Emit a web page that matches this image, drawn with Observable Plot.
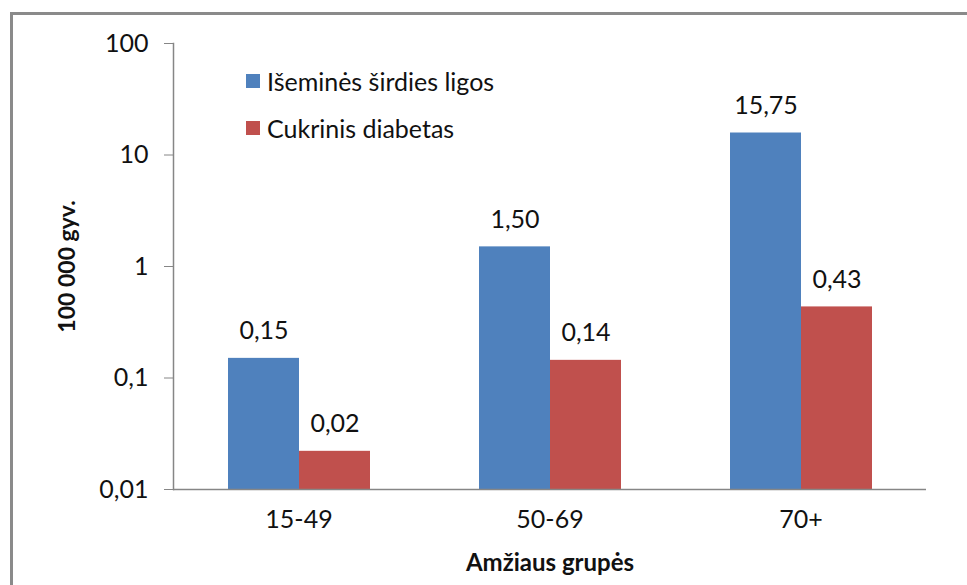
<!DOCTYPE html>
<html>
<head>
<meta charset="utf-8">
<script src="https://cdn.jsdelivr.net/npm/d3@7"></script>
<script src="https://cdn.jsdelivr.net/npm/@observablehq/plot@0.6"></script>
<style>
  html, body { margin: 0; padding: 0; background: #fff; }
  #wrap { position: relative; width: 967px; height: 585px; overflow: hidden; font-family: Lato, "Open Sans", sans-serif; }
  #border { position: absolute; left: 10px; top: 12px; width: 1000px; height: 700px; border-left: 3px solid #8a8a8a; border-top: 3px solid #8a8a8a; box-sizing: border-box; }
  #chart { position: absolute; left: 0; top: 0; }
  .legend { position: absolute; left: 246px; top: 57px; font-size: 25px; color: #111; }
  .legend .item { display: flex; align-items: center; height: 47px; }
  .legend .sw { width: 14px; height: 14px; margin-right: 7px; }
  g[aria-label="y-axis label"] text { font-weight: bold; font-size: 23px; }
  g[aria-label="fx-axis label"] text { font-weight: bold; font-size: 24px; }
</style>
</head>
<body>
<div id="wrap">
  <div id="border"></div>
  <div id="chart"></div>
  <div class="legend" id="legend"></div>
</div>
<script>
const groups = ["15-49", "50-69", "70+"];
const series = ["Išeminės širdies ligos", "Cukrinis diabetas"];
const ischemic = [0.15, 1.50, 15.75];
const diabetes = [0.022, 0.144, 0.434];
const labelsIschemic = ["0,15", "1,50", "15,75"];
const labelsDiabetes = ["0,02", "0,14", "0,43"];
const yTicks = [0.01, 0.1, 1, 10, 100];
const yTickLabels = ["0,01", "0,1", "1", "10", "100"];
const colors = ["#4F81BD", "#C0504D"];

const rows = [];
groups.forEach((g, i) => {
  rows.push({group: g, series: series[0], value: ischemic[i], label: labelsIschemic[i]});
  rows.push({group: g, series: series[1], value: diabetes[i], label: labelsDiabetes[i]});
});

const axisGray = "#868686";
const chart = Plot.plot({
  width: 967,
  height: 585,
  marginLeft: 172,
  marginRight: 41,
  marginTop: 43,
  marginBottom: 96,
  style: {fontFamily: "Lato, 'Open Sans', sans-serif", fontSize: "25px", color: "#111", background: "transparent"},
  fx: {domain: groups, padding: 0, label: null},
  x: {domain: series, paddingInner: 0, paddingOuter: 0.757, axis: null},
  y: {type: "log", domain: [yTicks[0], yTicks[yTicks.length - 1]]},
  color: {domain: series, range: colors},
  marks: [
    Plot.barY(rows, {fx: "group", x: "series", y1: () => yTicks[0], y2: "value", fill: "series", inset: 0}),
    Plot.ruleY([yTicks[0]], {stroke: axisGray, strokeWidth: 1.5}),
    Plot.frame({anchor: "left", facetAnchor: "left", stroke: axisGray, strokeWidth: 1.5}),
    Plot.axisY({
      ticks: yTicks,
      tickFormat: (d) => yTickLabels[yTicks.indexOf(d)],
      tickSize: 9,
      tickPadding: 16,
      stroke: axisGray,
      fontSize: 25,
      label: "100 000 gyv.",
      labelAnchor: "center",
      labelArrow: "none",
      labelOffset: 115
    }),
    Plot.axisFx({
      anchor: "bottom",
      tickSize: 0,
      tickPadding: 21,
      fontSize: 25,
      label: "Amžiaus grupės",
      labelAnchor: "center",
      labelArrow: "none",
      labelOffset: 81
    }),
    Plot.text(rows, {fx: "group", x: "series", y: "value", text: "label", dy: -27, fontSize: 25, fill: "#111"})
  ]
});
document.getElementById("chart").appendChild(chart);

const legend = document.getElementById("legend");
series.forEach((s, i) => {
  const item = document.createElement("div");
  item.className = "item";
  const sw = document.createElement("span");
  sw.className = "sw";
  sw.style.background = colors[i];
  const t = document.createElement("span");
  t.textContent = s;
  item.appendChild(sw);
  item.appendChild(t);
  legend.appendChild(item);
});
</script>
</body>
</html>
